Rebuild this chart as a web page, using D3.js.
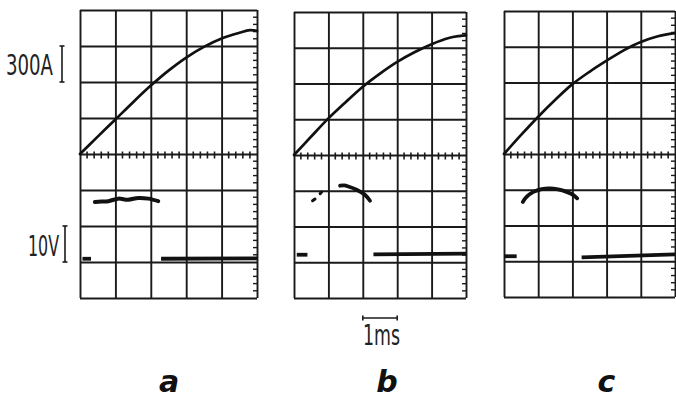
<!DOCTYPE html>
<html><head><meta charset="utf-8">
<script src="https://cdn.jsdelivr.net/npm/d3@7"></script>
<style>html,body{margin:0;padding:0;background:#fff;overflow:hidden}</style>
</head><body><svg id="chart" width="676" height="399"></svg>
<script>
// ---- data ----
const panelNames = ["a", "b", "c"];
const timeMs = [0, 0.5, 1, 1.5, 2, 2.5, 3, 3.5, 4, 4.5, 4.8, 5];
const currentA = [0, 145, 288, 432, 570, 695, 804, 893, 963, 1010, 1032, 1026];
const currentB = [0, 155, 307, 443, 573, 683, 781, 862, 930, 982, 998, 1004];
const currentC = [0, 160, 313, 455, 586, 690, 783, 870, 940, 988, 1006, 1015];

// voltage pulses (ms, V)
const pulseTimeA = [0.42, 0.6, 0.8, 1.08, 1.36, 1.65, 1.93, 2.21];
const pulseVoltA = [16.7, 16.8, 16.9, 17.6, 17.3, 17.8, 17.6, 16.9];
const dotTimeB = [0.54, 0.61, 0.76, 0.80];
const dotVoltB = [17.2, 17.7, 19.2, 19.6];
const pulseTimeB = [1.34, 1.46, 1.58, 1.82, 2.06, 2.21];
const pulseVoltB = [21.4, 21.5, 21.2, 20.3, 18.9, 17.2];
const pulseTimeC = [0.55, 0.66, 0.86, 1.10, 1.34, 1.58, 1.83, 2.03, 2.14];
const pulseVoltC = [16.6, 18.0, 19.4, 20.2, 20.4, 20.1, 19.4, 18.5, 17.6];

// residual voltage before / after the pulse (ms, V)
const preTimeA = [0.07, 0.31], preVoltA = [0.9, 0.9];
const postTimeA = [2.29, 5], postVoltA = [0.9, 1.0];
const preTimeB = [0.08, 0.39], preVoltB = [2.1, 2.1];
const postTimeB = [2.31, 5], postVoltB = [2.2, 2.4];
const preTimeC = [0.0, 0.37], preVoltC = [1.4, 1.4];
const postTimeC = [2.27, 5], postVoltC = [1.1, 1.9];

const scaleLabels = ["300A", "10V", "1ms"];

// ---- layout ----
const svg = d3.select("#chart");
const layout = [
  {x0: 80, x1: 257, y0: 10, y1: 298},
  {x0: 294, x1: 466, y0: 12, y1: 298},
  {x0: 504, x1: 675, y0: 11, y1: 297}
];
const currents = [currentA, currentB, currentC];
const pulses = [[pulseTimeA, pulseVoltA], [pulseTimeB, pulseVoltB], [pulseTimeC, pulseVoltC]];
const pres = [[preTimeA, preVoltA], [preTimeB, preVoltB], [preTimeC, preVoltC]];
const posts = [[postTimeA, postVoltA], [postTimeB, postVoltB], [postTimeC, postVoltC]];
const ink = "#1a1a1a";
const scalesAll = [];

panelNames.forEach((name, i) => {
  const L = layout[i];
  const x = d3.scaleLinear().domain([0, 5]).range([L.x0, L.x1]);
  const yI = d3.scaleLinear().domain([-1200, 1200]).range([L.y1, L.y0]);
  const yV = d3.scaleLinear().domain([-10, 70]).range([L.y1, L.y0]);
  scalesAll.push({x, yI, yV});
  const g = svg.append("g");

  // grid via axes
  const gx = g.append("g").attr("transform", `translate(0,${L.y1})`)
    .call(d3.axisBottom(x).tickValues(d3.range(0, 6)).tickSize(-(L.y1 - L.y0)).tickFormat(""));
  const gy = g.append("g").attr("transform", `translate(${L.x0},0)`)
    .call(d3.axisLeft(yI).tickValues(d3.range(-1200, 1201, 300)).tickSize(-(L.x1 - L.x0)).tickFormat(""));
  [gx, gy].forEach(a => {
    a.select(".domain").remove();
    a.selectAll("line").attr("stroke", ink).attr("stroke-width", 1.9);
  });

  // minor ticks on centre time axis
  const minorT = d3.range(0, 25).map(k => k * 0.2).filter(t => Math.abs(t - Math.round(t)) > 1e-6);
  g.append("g").selectAll("line").data(minorT).join("line")
    .attr("x1", d => x(d)).attr("x2", d => x(d))
    .attr("y1", yI(0) - 2.5).attr("y2", yI(0) + 4.5)
    .attr("stroke", ink).attr("stroke-width", 1.6);
  // minor ticks on right edge
  const minorY = d3.range(-1200, 1200, 60).filter(v => v % 300 !== 0);
  g.append("g").selectAll("line").data(minorY).join("line")
    .attr("x1", L.x1 - 4).attr("x2", L.x1 + 0.5)
    .attr("y1", d => yI(d)).attr("y2", d => yI(d))
    .attr("stroke", ink).attr("stroke-width", 1.4);

  // current trace
  const lineI = d3.line().x((d, k) => x(timeMs[k])).y(d => yI(d)).curve(d3.curveCatmullRom);
  g.append("path").datum(currents[i]).attr("d", lineI)
    .attr("fill", "none").attr("stroke", "#111").attr("stroke-width", 2.7).attr("stroke-linecap", "round");

  // voltage traces
  const lineV = (ts) => d3.line().x((d, k) => x(ts[k])).y(d => yV(d)).curve(d3.curveCatmullRom);
  const [pt, pv] = pulses[i];
  g.append("path").datum(pv).attr("d", lineV(pt))
    .attr("fill", "none").attr("stroke", "#111").attr("stroke-width", i === 0 ? 4 : 3.8).attr("stroke-linecap", "round");
  [pres[i], posts[i]].forEach(([ts, vs]) => {
    g.append("path").datum(vs).attr("d", lineV(ts).curve(d3.curveLinear))
      .attr("fill", "none").attr("stroke", "#111").attr("stroke-width", 3.8);
  });
  if (i === 1) {
    for (let k = 0; k < dotTimeB.length; k += 2) {
      g.append("line")
        .attr("x1", x(dotTimeB[k])).attr("y1", yV(dotVoltB[k]))
        .attr("x2", x(dotTimeB[k + 1])).attr("y2", yV(dotVoltB[k + 1]))
        .attr("stroke", "#111").attr("stroke-width", 3).attr("stroke-linecap", "round");
    }
  }

  // panel letter
  svg.append("text").text(name)
    .attr("x", (L.x0 + L.x1) / 2 + [0.5, 7, 17][i]).attr("y", 392)
    .attr("text-anchor", "middle")
    .attr("font-family", "DejaVu Sans").attr("font-weight", "bold").attr("font-style", "italic")
    .attr("font-size", 30).attr("fill", "#111");
});

// scale brackets
const sA = scalesAll[0], sB = scalesAll[1];
function vBracket(xp, ya, yb) {
  const g = svg.append("g").attr("stroke", ink).attr("stroke-width", 1.6);
  g.append("line").attr("x1", xp).attr("x2", xp).attr("y1", ya).attr("y2", yb);
  g.append("line").attr("x1", xp - 2.5).attr("x2", xp + 2.5).attr("y1", ya).attr("y2", ya);
  g.append("line").attr("x1", xp - 2.5).attr("x2", xp + 2.5).attr("y1", yb).attr("y2", yb);
}
vBracket(62, sA.yI(900), sA.yI(600));
vBracket(65, sA.yV(10), sA.yV(0));
{
  const g = svg.append("g").attr("stroke", ink).attr("stroke-width", 1.6);
  const xa = sB.x(2), xb = sB.x(3), yb = 318;
  g.append("line").attr("x1", xa).attr("x2", xb).attr("y1", yb).attr("y2", yb);
  g.append("line").attr("x1", xa).attr("x2", xa).attr("y1", yb - 2.5).attr("y2", yb + 2.5);
  g.append("line").attr("x1", xb).attr("x2", xb).attr("y1", yb - 2.5).attr("y2", yb + 2.5);
}
function lab(t, xp, yp, w) {
  svg.append("text").text(t).attr("x", xp).attr("y", yp)
    .style("font-family", "'Liberation Sans Narrow', 'DejaVu Sans Condensed', sans-serif")
    .style("font-size", "28px").attr("fill", "#222")
    .attr("textLength", w).attr("lengthAdjust", "spacingAndGlyphs");
}
lab(scaleLabels[0], 6, 75, 47);
lab(scaleLabels[1], 28, 256, 31);
lab(scaleLabels[2], 363, 345, 37);
</script></body></html>
